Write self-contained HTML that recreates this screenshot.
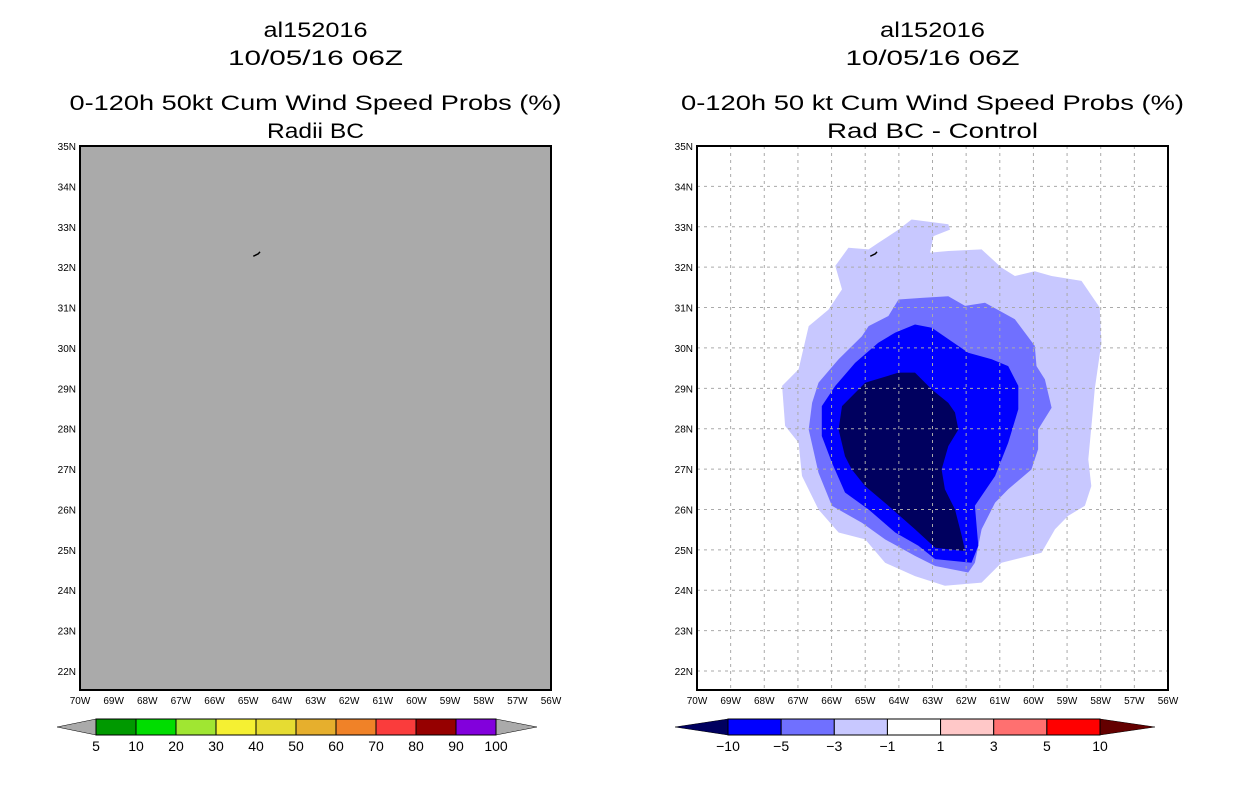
<!DOCTYPE html>
<html><head><meta charset="utf-8"><style>
body{margin:0;background:#fff;}
svg{display:block;font-family:"Liberation Sans",sans-serif;}
</style></head><body>
<svg id="s" width="1236" height="800" xmlns="http://www.w3.org/2000/svg">
<rect width="1236" height="800" fill="#fff"/>
</svg>
<script>
const lonTicks=[-70,-69,-68,-67,-66,-65,-64,-63,-62,-61,-60,-59,-58,-57,-56];
const latTicks=[22,23,24,25,26,27,28,29,30,31,32,33,34,35];
const leftLevels=["5","10","20","30","40","50","60","70","80","90","100"];
const leftColors=["#009900","#00dd00","#a0e632","#f5f032","#e6dc32","#e6af2d","#f08228","#fa3c3c","#960000","#8200dc"];
const rightLevels=["-10","-5","-3","-1","1","3","5","10"];
const rightColors=["#0000ff","#7070ff","#c8c8ff","#ffffff","#ffc8c8","#ff7070","#ff0000"];
const contourLevels=["-1","-3","-5","-10"];
const contourColors=["#c8c8ff","#7070ff","#0000ff","#00005f"];
const cOuter=[[-65.5,32.48],[-64.9,32.44],[-64.61,32.6],[-64.01,32.93],[-63.62,33.18],[-62.53,33.06],[-62.48,32.93],[-62.97,32.77],[-63.07,32.36],[-62.53,32.4],[-61.54,32.44],[-60.95,31.99],[-60.55,31.78],[-59.96,31.9],[-59.46,31.78],[-58.57,31.66],[-58.03,31.0],[-57.98,30.13],[-58.18,28.97],[-58.23,28.48],[-58.37,27.24],[-58.28,26.58],[-58.47,26.09],[-58.97,25.84],[-59.36,25.51],[-59.76,24.93],[-60.95,24.68],[-61.54,24.19],[-62.63,24.11],[-63.52,24.35],[-64.41,24.68],[-65.0,25.26],[-65.79,25.43],[-66.39,26.0],[-66.88,26.83],[-66.98,27.65],[-67.38,28.07],[-67.47,29.06],[-66.98,29.47],[-66.68,30.54],[-66.09,30.95],[-65.69,31.45],[-65.89,32.03]];
const cMinus3=[[-64.01,31.2],[-63.32,31.24],[-62.53,31.28],[-62.03,31.04],[-61.44,31.12],[-60.55,30.71],[-59.96,30.05],[-59.91,29.55],[-59.66,29.22],[-59.46,28.52],[-59.86,27.98],[-59.86,27.49],[-60.06,26.99],[-60.75,26.5],[-61.14,26.17],[-61.54,25.51],[-61.74,24.68],[-61.94,24.44],[-62.92,24.6],[-63.52,24.85],[-64.41,25.26],[-65.1,25.67],[-65.99,26.09],[-66.39,26.91],[-66.68,27.98],[-66.58,28.64],[-66.39,29.14],[-65.79,29.72],[-65.1,30.29],[-64.9,30.54],[-64.31,30.79]];
const cMinus5=[[-63.52,30.58],[-63.02,30.5],[-61.94,29.88],[-61.24,29.72],[-60.75,29.55],[-60.45,29.06],[-60.45,28.48],[-60.75,27.65],[-61.14,26.83],[-61.74,26.09],[-61.64,25.1],[-61.84,24.68],[-62.92,24.77],[-63.42,25.1],[-64.11,25.43],[-64.9,26.0],[-65.6,26.42],[-65.99,27.16],[-66.29,27.82],[-66.29,28.56],[-65.89,29.06],[-65.3,29.63],[-64.61,30.13],[-64.11,30.38]];
const cMinus10=[[-64.01,29.39],[-63.52,29.39],[-63.02,28.97],[-62.53,28.64],[-62.33,28.4],[-62.23,27.98],[-62.53,27.57],[-62.73,26.99],[-62.63,26.5],[-62.33,26.0],[-62.13,25.34],[-62.03,24.97],[-62.92,25.05],[-63.52,25.51],[-64.31,26.09],[-65.0,26.58],[-65.4,26.99],[-65.6,27.32],[-65.79,27.98],[-65.69,28.56],[-65.0,29.14],[-64.51,29.26]];
const bermuda=[[-64.85,32.27],[-64.7,32.33],[-64.65,32.38]];

const NS="http://www.w3.org/2000/svg";
const svg=document.getElementById('s');
function mk(t,a,p){const e=document.createElementNS(NS,t);for(const k in a)e.setAttribute(k,a[k]);(p||svg).appendChild(e);return e;}
const LON0=-70,LON1=-56,LAT0=21.53,LAT1=35;
function panel(x0){
  const x1=x0+471,y0=146,y1=690;
  return {x0,x1,y0,y1,
    sx:lon=>x0+(lon-LON0)/(LON1-LON0)*(x1-x0),
    sy:lat=>y1-(lat-LAT0)/(LAT1-LAT0)*(y1-y0)};
}
const P=[panel(80),panel(697)];
const titles=[["al152016","10/05/16 06Z","0-120h 50kt Cum Wind Speed Probs (%)","Radii BC"],
              ["al152016","10/05/16 06Z","0-120h 50 kt Cum Wind Speed Probs (%)","Rad BC - Control"]];
const titleLens=[[104,175,492,97],[105,174,503,211]];
const tys=[37,65,110,138];
P.forEach((p,i)=>{
  const cx=(p.x0+p.x1)/2;
  titles[i].forEach((t,j)=>{
    const e=mk('text',{x:cx,y:tys[j],'text-anchor':'middle','font-size':21,fill:'#000',textLength:titleLens[i][j],lengthAdjust:'spacingAndGlyphs'});
    
    
    e.textContent=t;
  });
  const bg=mk('rect',{x:p.x0,y:p.y0,width:p.x1-p.x0,height:p.y1-p.y0,fill:i==0?'#aaaaaa':'#ffffff'});
  
  
  if(i==1){
    const polys=[cOuter,cMinus3,cMinus5,cMinus10];
    polys.forEach((poly,k)=>{
      const e=mk('polygon',{points:poly.map(q=>p.sx(q[0]).toFixed(1)+','+p.sy(q[1]).toFixed(1)).join(' '),fill:contourColors[k]});
      
      
    });
    lonTicks.slice(1,-1).forEach(l=>{const e=mk('line',{x1:p.sx(l),x2:p.sx(l),y1:p.y0,y2:p.y1,stroke:'#aaa','stroke-dasharray':'3,4'});
      
      });
    latTicks.slice(0,-1).forEach(l=>{const e=mk('line',{x1:p.x0,x2:p.x1,y1:p.sy(l),y2:p.sy(l),stroke:'#aaa','stroke-dasharray':'3,4'});
      
      });
  }
  const bm=mk('polyline',{points:bermuda.map(q=>p.sx(q[0])+','+p.sy(q[1])).join(' '),fill:'none',stroke:'#000','stroke-width':1.5});
  
  
  const fr=mk('rect',{x:p.x0,y:p.y0,width:p.x1-p.x0,height:p.y1-p.y0,fill:'none',stroke:'#000','stroke-width':2});
  
  
  lonTicks.forEach(l=>{
    const e=mk('text',{x:p.sx(l),y:p.y1+14,'text-anchor':'middle','font-size':10,fill:'#000'});
    
    
    e.textContent=Math.abs(l)+'W';
  });
  latTicks.forEach(l=>{
    const e=mk('text',{x:p.x0-4,y:p.sy(l)+4,'text-anchor':'end','font-size':10,fill:'#000'});
    
    
    e.textContent=l+'N';
  });
});
function colorbar(xl,xs,xe,xr,cols,labels,tipL,tipR,name){
  const y0=719,y1=735,ym=727;
  const g=mk('g',{});
  
  
  const n=cols.length,w=(xe-xs)/n;
  mk('polygon',{points:`${xl},${ym} ${xs},${y0} ${xs},${y1}`,fill:tipL,stroke:'#000','stroke-width':0.5},g);
  mk('polygon',{points:`${xr},${ym} ${xe},${y0} ${xe},${y1}`,fill:tipR,stroke:'#000','stroke-width':0.5},g);
  cols.forEach((c,k)=>{
    const r=mk('rect',{x:xs+k*w,y:y0,width:w,height:y1-y0,fill:c,stroke:'#000','stroke-width':1},g);
    
    
  });
  labels.forEach((t,k)=>{
    const e=mk('text',{x:xs+k*w,y:751,'text-anchor':'middle','font-size':14,fill:'#000'},g);
    
    
    e.textContent=t;
  });
}
colorbar(57,96,496,537,leftColors,leftLevels,'#aaaaaa','#aaaaaa','left-colorbar');
colorbar(675,728,1100,1155,rightColors,rightLevels.map(s=>s.replace('-','\u2212')),'#00005f','#640000','right-colorbar');
</script>
</body></html>
